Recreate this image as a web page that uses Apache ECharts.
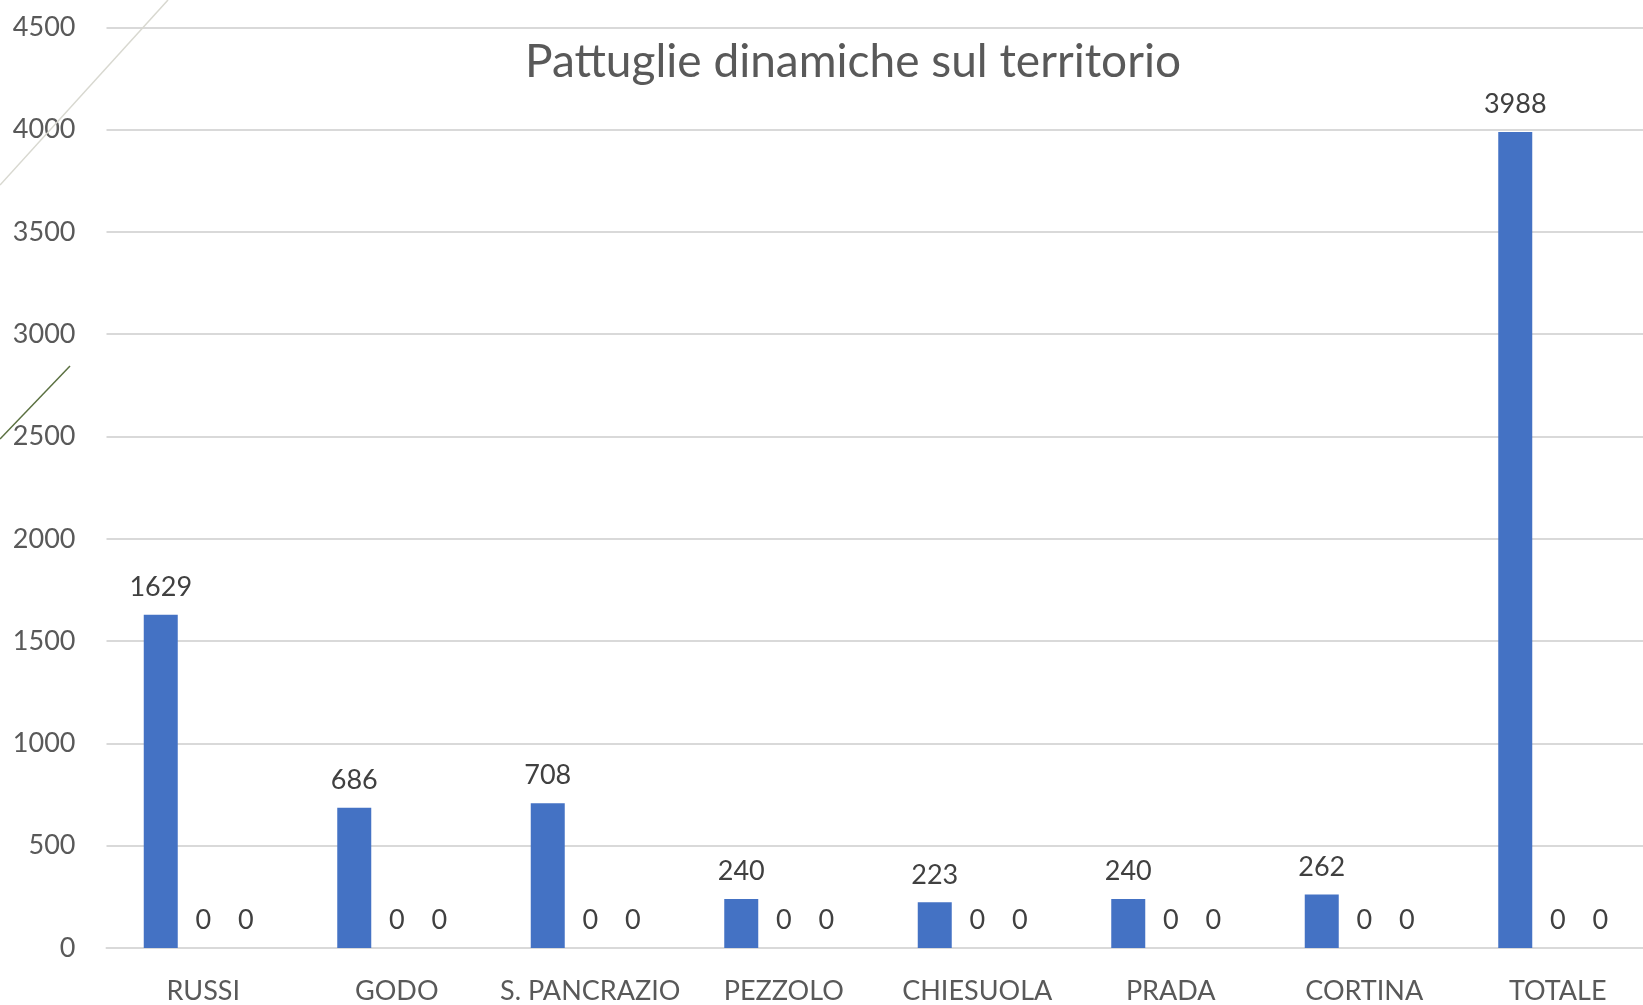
<!DOCTYPE html>
<html>
<head>
<meta charset="utf-8">
<title>Pattuglie dinamiche sul territorio</title>
<script src="https://cdn.jsdelivr.net/npm/echarts@6/dist/echarts.min.js"></script>
<style>
  html, body { margin: 0; padding: 0; background: #fff; overflow: hidden; }
  /* il grafico originale è tagliato a destra: il contenitore è più largo della finestra */
  #chart { width: 1700px; height: 1005px; }
</style>
</head>
<body>
<div id="chart"></div>
<script>
const categories = ['RUSSI', 'GODO', 'S. PANCRAZIO', 'PEZZOLO', 'CHIESUOLA', 'PRADA', 'CORTINA', 'TOTALE'];
const pattuglie = [1629, 686, 708, 240, 223, 240, 262, 3988];
const serie2 = [0, 0, 0, 0, 0, 0, 0, 0];
const serie3 = [0, 0, 0, 0, 0, 0, 0, 0];

const font = 'Lato, "Open Sans", sans-serif';

const valueLabel = {
  show: true,
  position: 'top',
  distance: 14,
  color: '#404040',
  fontSize: 27,
  fontFamily: font
};

const myChart = echarts.init(document.getElementById('chart'));
myChart.setOption({
  animation: false,
  title: {
    text: 'Pattuglie dinamiche sul territorio',
    left: 848,
    textAlign: 'center',
    top: 34,
    textStyle: {
      color: '#595959',
      fontSize: 46,
      fontWeight: 'normal',
      fontFamily: font
    }
  },
  grid: {
    left: 106.5,
    top: 27.3,
    width: 1548,
    height: 921.6,
    containLabel: false
  },
  xAxis: {
    type: 'category',
    data: categories,
    axisLine: { lineStyle: { color: '#d9d9d9', width: 2 } },
    axisTick: { show: false },
    axisLabel: {
      color: '#595959',
      fontSize: 27,
      fontFamily: font,
      margin: 30,
      interval: 0
    }
  },
  yAxis: {
    type: 'value',
    min: 0,
    max: 4500,
    interval: 500,
    axisLine: { show: false },
    axisTick: { show: false },
    splitLine: { lineStyle: { color: '#d9d9d9', width: 2 } },
    axisLabel: {
      color: '#595959',
      fontSize: 27,
      fontFamily: font,
      margin: 31,
      formatter: v => String(v)
    }
  },
  series: [
    {
      name: 'Pattuglie',
      type: 'bar',
      data: pattuglie,
      barWidth: 34,
      barGap: '25%',
      itemStyle: { color: '#4472C4' },
      label: valueLabel
    },
    {
      name: 'Serie 2',
      type: 'bar',
      data: serie2,
      barWidth: 34,
      barGap: '25%',
      itemStyle: { color: '#ED7D31' },
      label: valueLabel
    },
    {
      name: 'Serie 3',
      type: 'bar',
      data: serie3,
      barWidth: 34,
      barGap: '25%',
      itemStyle: { color: '#A5A5A5' },
      label: valueLabel
    }
  ],
  graphic: [
    {
      type: 'line',
      shape: { x1: 0, y1: 185, x2: 168, y2: 0 },
      style: { stroke: '#d8d8d0', lineWidth: 1.5 },
      z: 100
    },
    {
      type: 'line',
      shape: { x1: 0, y1: 439, x2: 70, y2: 366 },
      style: { stroke: '#5a7040', lineWidth: 1.5 },
      z: 100
    }
  ]
});
</script>
</body>
</html>
